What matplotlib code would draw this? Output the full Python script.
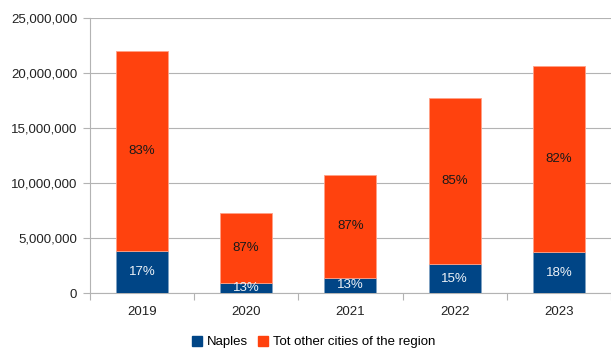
import matplotlib.pyplot as plt
from matplotlib.patches import Patch
from matplotlib.ticker import FuncFormatter
import numpy as np

plt.rcParams['font.family'] = ['Liberation Sans', 'DejaVu Sans']

years = ['2019', '2020', '2021', '2022', '2023']
naples = [3.80e6, 0.95e6, 1.38e6, 2.65e6, 3.70e6]
other_cities = [18.2e6, 6.32e6, 9.35e6, 15.05e6, 16.9e6]

blue = '#004586'
orange = '#ff420e'
grey = '#b3b3b3'

fig = plt.figure(figsize=(6.11, 3.51), dpi=100)
ax = fig.add_axes([0.147, 0.165, 0.853, 0.784])

x = np.arange(len(years))
naples = np.array(naples)
other_cities = np.array(other_cities)
total = naples + other_cities

ax.bar(x, naples, width=0.5, color=blue, edgecolor='#7fa2c2', linewidth=0.6, zorder=3)
ax.bar(x, other_cities, width=0.5, bottom=naples, color=orange,
       edgecolor='#ffa086', linewidth=0.6, zorder=3)

# percentage share of each segment, written in its middle
for i in range(len(years)):
    p_nap = round(naples[i] / total[i] * 100)
    p_oth = round(other_cities[i] / total[i] * 100)
    ax.text(x[i], naples[i] / 2, '%d%%' % p_nap, ha='center', va='center',
            color='#eef2f7', fontsize=9.5, zorder=4)
    ax.text(x[i], naples[i] + other_cities[i] / 2, '%d%%' % p_oth, ha='center',
            va='center', color='#1a1a1a', fontsize=9.5, zorder=4)

ax.set_xlim(-0.5, len(years) - 0.5)
ax.set_ylim(0, 25e6)
ax.set_yticks(np.arange(0, 25e6 + 1, 5e6))
ax.yaxis.set_major_formatter(FuncFormatter(lambda v, pos: '{:,.0f}'.format(v)))

# category labels between boundary ticks
ax.set_xticks(np.arange(-0.5, len(years), 1.0))
ax.set_xticklabels([])
ax.set_xticks(x, minor=True)
ax.set_xticklabels(years, minor=True)
ax.tick_params(axis='x', which='major', length=5, color=grey)
ax.tick_params(axis='x', which='minor', length=0, pad=9, labelsize=9.5, labelcolor='#222222')
ax.tick_params(axis='y', length=5, color=grey, labelsize=9.5, labelcolor='#222222', pad=4)

ax.grid(axis='y', color=grey, linewidth=0.8, zorder=0)
for s in ['top', 'right']:
    ax.spines[s].set_visible(False)
for s in ['left', 'bottom']:
    ax.spines[s].set_color(grey)
    ax.spines[s].set_linewidth(0.8)

handles = [Patch(color=blue, label='Naples'),
           Patch(color=orange, label='Tot other cities of the region')]
fig.legend(handles=handles, loc='center', bbox_to_anchor=(0.513, 0.025), ncol=2,
           frameon=False, fontsize=9.5, handlelength=0.75, handleheight=0.75,
           handletextpad=0.35, columnspacing=0.8)

fig.savefig('out.png', dpi=100)
